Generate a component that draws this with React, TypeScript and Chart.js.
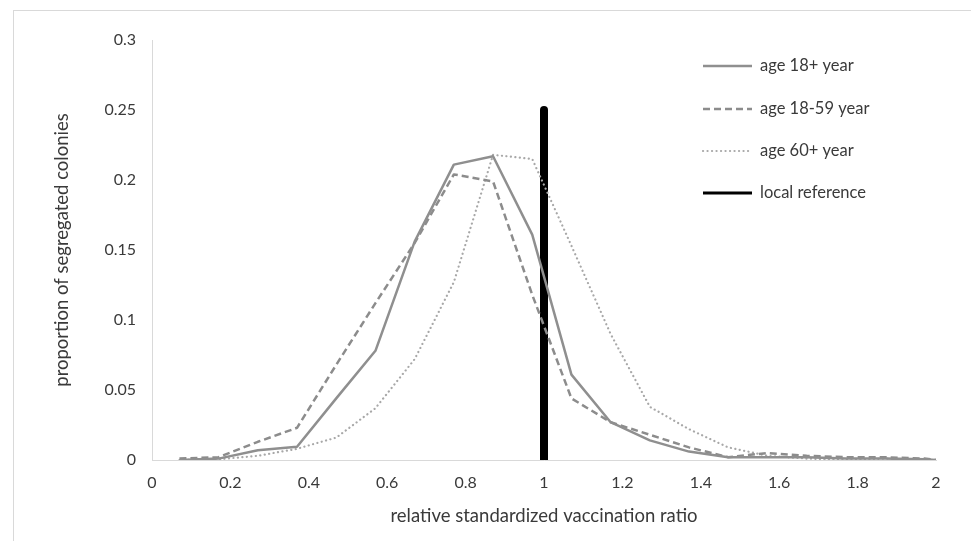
import React, { useEffect, useRef } from "react";
import { Chart, registerables } from "chart.js";

Chart.register(...registerables);

// ---- data ----
const ratioValues = [0.07, 0.17, 0.27, 0.37, 0.47, 0.57, 0.67, 0.77, 0.87, 0.97, 1.07, 1.17, 1.27, 1.37, 1.47, 1.57, 1.67, 1.77, 1.87, 1.97, 2.0];
const age18plus = [0, 0.001, 0.007, 0.0095, 0.044, 0.078, 0.156, 0.211, 0.217, 0.161, 0.061, 0.027, 0.014, 0.006, 0.002, 0.002, 0.002, 0.001, 0.001, 0.0005, 0];
const age18to59 = [0.001, 0.002, 0.013, 0.023, 0.068, 0.112, 0.155, 0.204, 0.199, 0.118, 0.044, 0.027, 0.018, 0.009, 0.002, 0.005, 0.003, 0.002, 0.002, 0.001, 0];
const age60plus = [0, 0.0005, 0.003, 0.008, 0.016, 0.037, 0.072, 0.127, 0.218, 0.215, 0.153, 0.09, 0.038, 0.022, 0.009, 0.003, 0.001, 0, 0.001, 0, 0];
const referenceX = [1, 1];
const referenceY = [0, 0.25];
const seriesLabels = ["age 18+ year", "age 18-59 year", "age 60+ year", "local reference"];
const xAxisTitle = "relative standardized vaccination ratio";
const yAxisTitle = "proportion of segregated colonies";
const xRange = [0, 2];
const yRange = [0, 0.3];
const xStep = 0.2;
const yStep = 0.05;

const FONT = "Lato, 'Open Sans', sans-serif";
const TEXT = "#3a3a3a";

const styles = [
  { color: "#8f8f8f", width: 2.5, dash: [] as number[], cap: "butt" as CanvasLineCap },
  { color: "#8c8c8c", width: 2.5, dash: [7, 4], cap: "butt" as CanvasLineCap },
  { color: "#a8a8a8", width: 2.2, dash: [0.1, 4.4], cap: "round" as CanvasLineCap },
  { color: "#000000", width: 8, dash: [] as number[], cap: "round" as CanvasLineCap },
];

const fmt = (v: number) => String(Number(v.toFixed(2)));

const frame = {
  id: "frame",
  beforeDraw(chart: any) {
    const ctx = chart.ctx;
    ctx.save();
    ctx.fillStyle = "#ffffff";
    ctx.fillRect(0, 0, chart.width, chart.height);
    ctx.strokeStyle = "#d9d9d9";
    ctx.lineWidth = 1;
    ctx.strokeRect(13.5, 10.5, chart.width + 20, chart.height + 20);
    ctx.restore();
  },
};

const legendBox = {
  id: "legendBox",
  afterDraw(chart: any) {
    const ctx = chart.ctx;
    const x0 = 703;
    const x1 = 752;
    const rows = [66, 109, 151, 193];
    ctx.save();
    seriesLabels.forEach((label, i) => {
      const s = styles[i];
      const y = rows[i];
      ctx.beginPath();
      ctx.strokeStyle = s.color;
      ctx.lineWidth = i === 3 ? 3 : s.width;
      ctx.setLineDash(s.dash);
      ctx.lineCap = i === 3 ? "butt" : s.cap;
      ctx.moveTo(x0, y);
      ctx.lineTo(x1, y);
      ctx.stroke();
      ctx.setLineDash([]);
      ctx.fillStyle = TEXT;
      ctx.font = `16.5px ${FONT}`;
      ctx.textBaseline = "middle";
      ctx.textAlign = "left";
      ctx.fillText(label, 760, y);
    });
    ctx.restore();
  },
};

export default function App() {
  const ref = useRef<HTMLCanvasElement | null>(null);
  useEffect(() => {
    if (!ref.current) return;
    const series = [age18plus, age18to59, age60plus];
    const datasets: any[] = series.map((vals, i) => ({
      label: seriesLabels[i],
      data: ratioValues.map((x, k) => ({ x, y: vals[k] })),
      borderColor: styles[i].color,
      borderWidth: styles[i].width,
      borderDash: styles[i].dash,
      borderCapStyle: styles[i].cap,
      borderJoinStyle: "round",
      showLine: true,
      pointRadius: 0,
      tension: 0,
      fill: false,
    }));
    datasets.push({
      label: seriesLabels[3],
      data: referenceX.map((x, k) => ({ x, y: referenceY[k] })),
      borderColor: styles[3].color,
      borderWidth: styles[3].width,
      borderCapStyle: "round",
      showLine: true,
      pointRadius: 0,
      fill: false,
    });
    const chart = new Chart(ref.current, {
      type: "scatter",
      data: { datasets },
      plugins: [frame, legendBox],
      options: {
        animation: false,
        responsive: false,
        devicePixelRatio: 1,
        layout: { padding: { top: 40, right: 35, left: 0, bottom: 0 } },
        plugins: { legend: { display: false }, tooltip: { enabled: false } },
        scales: {
          x: {
            type: "linear",
            min: xRange[0],
            max: xRange[1],
            afterFit: (s: any) => { s.height = 81; },
            afterBuildTicks: (s: any) => {
              const t = [];
              for (let v = xRange[0]; v <= xRange[1] + 1e-9; v += xStep) t.push({ value: Number(v.toFixed(2)) });
              s.ticks = t;
            },
            ticks: { callback: (v: any) => fmt(Number(v)), color: TEXT, font: { family: FONT, size: 16 }, padding: 13, maxRotation: 0, autoSkip: false },
            grid: { display: false, drawTicks: false },
            border: { display: true, color: "#d9d9d9", width: 1 },
            title: { display: true, text: xAxisTitle, color: TEXT, font: { family: FONT, size: 18.5 }, padding: { top: 0, bottom: 14 } },
          },
          y: {
            type: "linear",
            min: yRange[0],
            max: yRange[1],
            afterFit: (s: any) => { s.width = 152; },
            afterBuildTicks: (s: any) => {
              const t = [];
              for (let v = yRange[0]; v <= yRange[1] + 1e-9; v += yStep) t.push({ value: Number(v.toFixed(2)) });
              s.ticks = t;
            },
            ticks: { callback: (v: any) => fmt(Number(v)), color: TEXT, font: { family: FONT, size: 16 }, padding: 16, autoSkip: false },
            grid: { display: false, drawTicks: false },
            border: { display: true, color: "#d9d9d9", width: 1 },
            title: { display: true, text: yAxisTitle, color: TEXT, font: { family: FONT, size: 18.5 }, padding: { top: 51, bottom: 0 } },
          },
        },
      } as any,
    });
    return () => chart.destroy();
  }, []);
  return (
    <div style={{ position: "fixed", left: 0, top: 0, width: 971, height: 541, background: "#fff" }}>
      <canvas ref={ref} width={971} height={541} style={{ width: 971, height: 541, display: "block" }} />
    </div>
  );
}
